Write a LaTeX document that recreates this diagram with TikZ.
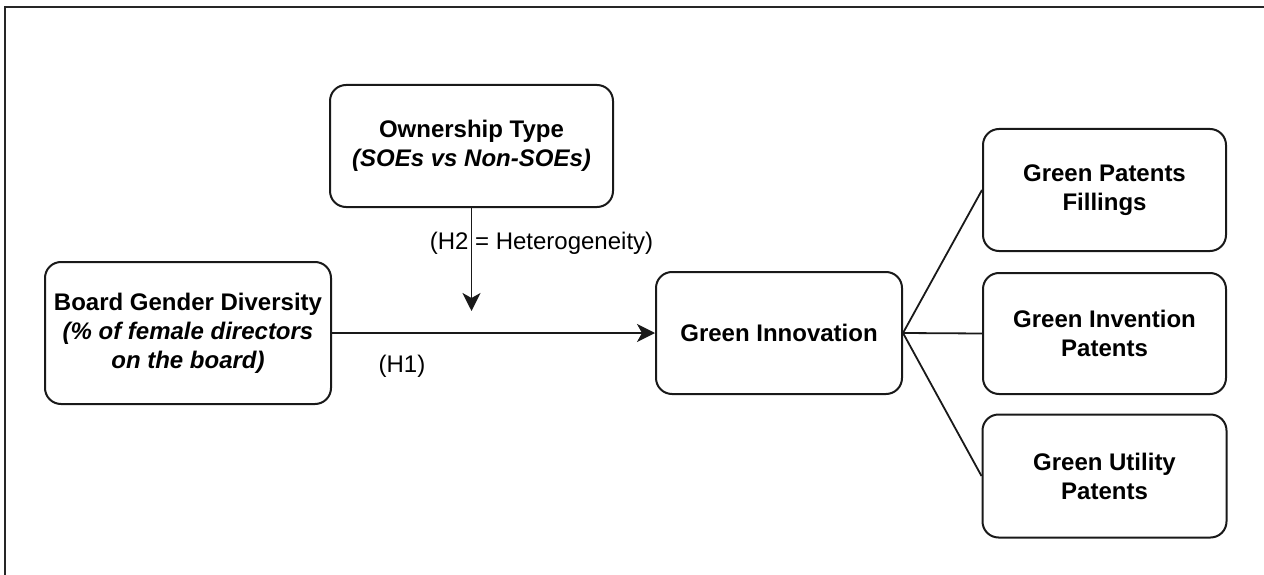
\documentclass[tikz,border=0pt]{standalone}
\usepackage{fontspec}
\setmainfont{Liberation Sans}
\usetikzlibrary{arrows.meta}
\begin{document}
\begin{tikzpicture}[x=1pt,y=-1pt,
  box/.style={draw=black!90, line width=2pt, rounded corners=16pt, align=center,
    inner sep=0pt, font=\fontsize{24}{29}\selectfont\bfseries, fill=white},
  lbl/.style={font=\fontsize{24}{29}\selectfont, inner sep=0pt},
  conn/.style={line width=1.8pt, draw=black!90},
  arr/.style={conn, -{Stealth[length=18pt,width=18pt,inset=5pt]}}]
\useasboundingbox (0,0) rectangle (1264,575);
% frame (only top and left edges visible)
\coordinate (fbl) at (5,575);
\coordinate (ftl) at (5,7);
\coordinate (ftr) at (1264,7);
\draw[line width=2pt, black!85] (fbl) -- (ftl) -- (ftr);
% nodes
\node[box, minimum width=283pt, minimum height=122pt] (own) at (471.5,146)
  {Ownership Type\\\textit{(SOEs vs Non-SOEs)}};
\node[box, minimum width=286pt, minimum height=142pt] (bgd) at (188,333)
  {Board Gender Diversity\\\textit{(\% of female directors}\\\textit{on the board)}};
\node[box, minimum width=246pt, minimum height=122pt] (gi) at (779,333)
  {Green Innovation};
\node[box, minimum width=243pt, minimum height=122pt] (gp) at (1104.5,190)
  {Green Patents\\Fillings};
\node[box, minimum width=243pt, minimum height=121pt] (gin) at (1104.5,333.5)
  {Green Invention\\Patents};
\node[box, minimum width=244pt, minimum height=123pt] (gu) at (1104.5,476)
  {Green Utility\\Patents};
\coordinate (mod) at (471.5,311);
% labels
\node[lbl] (h2) at (541.5,243) {(H2 = Heterogeneity)};
\node[lbl] (h1) at (402,366) {(H1)};
% connectors
\draw[arr] (own.south) -- (mod);
\draw[arr] (bgd.east) -- (gi.west);
\draw[conn] (gi.east) -- (gp.west);
\draw[conn] (gi.east) -- (gin.west);
\draw[conn] (gi.east) -- (gu.west);
\end{tikzpicture}
\end{document}
